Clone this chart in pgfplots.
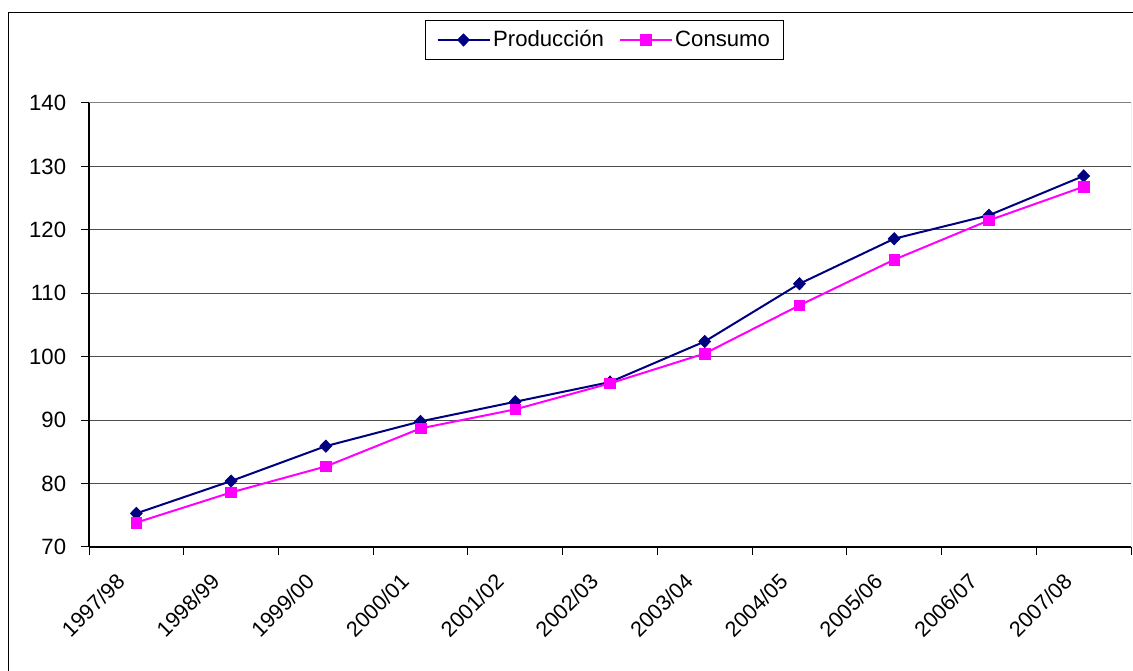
\documentclass[border=0pt]{standalone}
\usepackage{pgfplots}
\pgfplotsset{compat=1.18}
\usepackage{fontspec}
\setmainfont{Liberation Sans}
\definecolor{prod}{RGB}{0,0,128}
\definecolor{cons}{RGB}{255,0,255}
\newcommand\chartfont{\fontsize{16.6}{19}\selectfont}
\begin{document}
\chartfont
\begin{tikzpicture}
\begin{axis}[
  at={(66.75pt,93pt)}, anchor=south west,
  scale only axis, width=781.5pt, height=333pt,
  xmin=0.5, xmax=11.5, ymin=70, ymax=140,
  axis x line=bottom, axis y line=left,
  axis line style={-, black, line width=1pt},
  ytick={70,80,...,140},
  xtick={1,...,11},
  xticklabels={1997/98,1998/99,1999/00,2000/01,2001/02,2002/03,2003/04,2004/05,2005/06,2006/07,2007/08},
  major x tick style={draw=none},
  minor xtick={0.5,1.5,...,11.5},
  tick align=outside,
  major tick length=6pt, minor tick length=6pt,
  every tick/.style={black, line width=0.75pt},
  ymajorgrids,
  major grid style={black!70, line width=0.75pt},
  xticklabel style={xshift=-16pt, yshift=-12.5pt, rotate=45, anchor=north east, inner sep=0pt, font=\fontsize{16.2}{19}\selectfont},
  yticklabel style={anchor=east, inner sep=0pt, font=\chartfont},
  every y tick label/.append style={xshift=-11pt},
  /pgf/number format/assume math mode=true,
  legend columns=2,
  legend style={at={(0.4948,1.142)}, anchor=center, draw=black, line width=0.75pt,
    font=\chartfont, inner xsep=8pt, inner ysep=5pt,
    /tikz/every even column/.append style={column sep=9pt}},
  legend image code/.code={\draw[mark repeat=2,mark phase=2] plot coordinates {(0pt,0pt) (19.5pt,0pt) (39pt,0pt)};},
]
\addplot[prod, line width=1.5pt, mark=diamond*, mark size=4.6pt, mark options={solid, fill=prod, line width=0.5pt, xscale=1.3}]
  coordinates {(1,75.3) (2,80.4) (3,85.9) (4,89.8) (5,92.9) (6,96.0) (7,102.4) (8,111.5) (9,118.6) (10,122.3) (11,128.5)};
\addlegendentry{Producción}
\addplot[cons, line width=1.5pt, mark=square*, mark size=4pt, mark options={solid, fill=cons, line width=0.5pt}]
  coordinates {(1,73.85) (2,78.6) (3,82.7) (4,88.7) (5,91.7) (6,95.8) (7,100.5) (8,108.1) (9,115.3) (10,121.5) (11,126.8)};
\addlegendentry{Consumo}
\draw[black!50, line width=0.75pt] (rel axis cs:0,1) -- (rel axis cs:1,1) -- (rel axis cs:1,0);
\end{axis}
\draw[black, line width=0.75pt] (6.4pt,-20pt) rectangle (880pt,493.5pt);
\pgfresetboundingbox
\path (0pt,0pt) rectangle (849.75pt,503.25pt);
\end{tikzpicture}
\end{document}
